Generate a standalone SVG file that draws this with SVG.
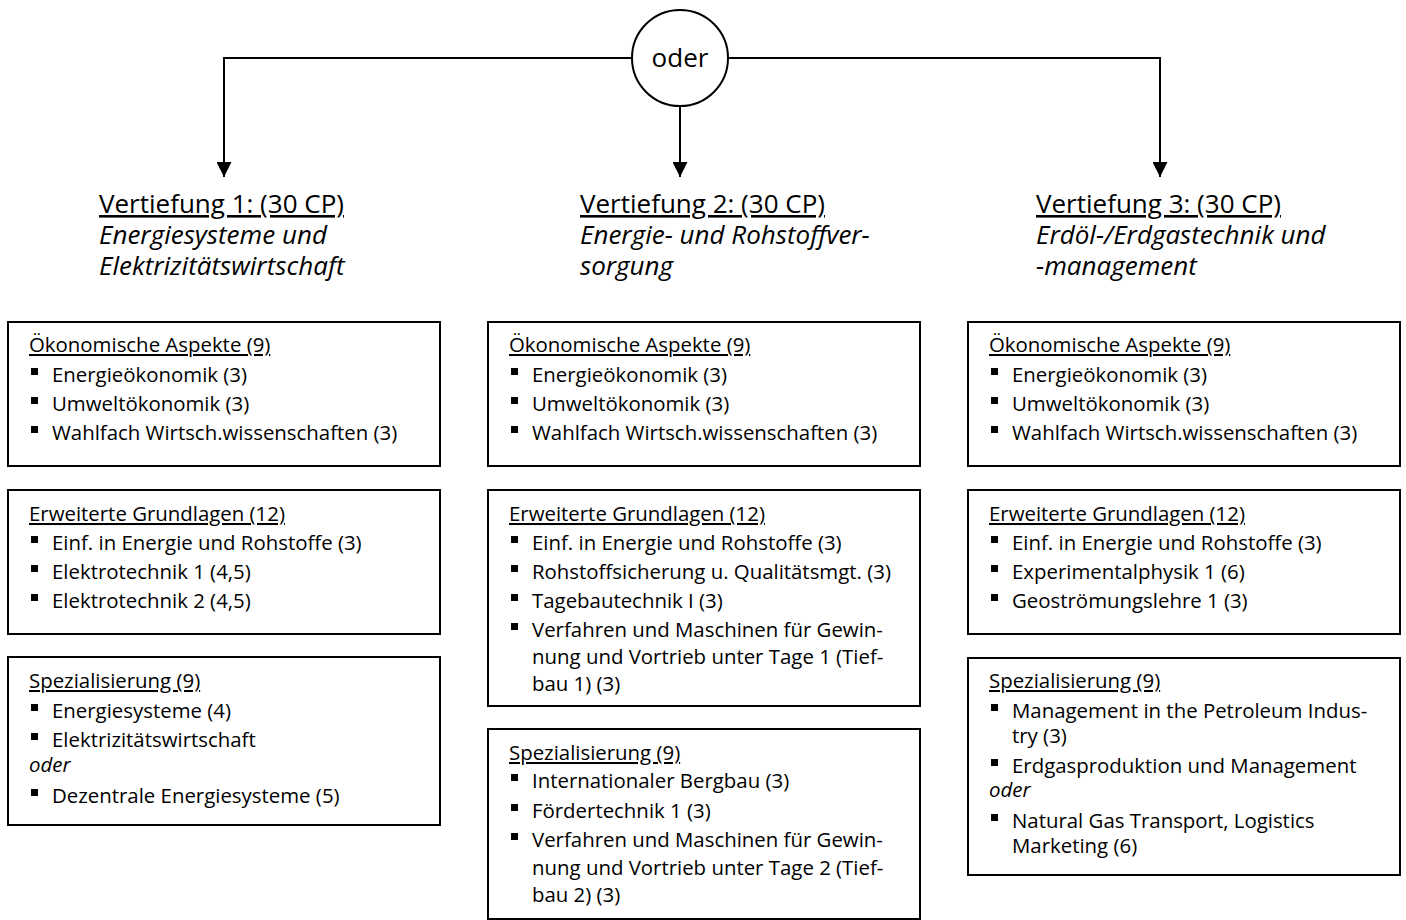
<svg xmlns="http://www.w3.org/2000/svg" width="1406" height="920" viewBox="0 0 1406 920">
<style>
text{font-family:"Open Sans","Liberation Sans",sans-serif;fill:#000}
.t{font-size:20.4px}
.h{font-size:26px}
.i{font-style:italic}
.u{text-decoration:underline;text-decoration-skip-ink:none}
.box{fill:#fff;stroke:#000;stroke-width:2}
.ln{fill:none;stroke:#000;stroke-width:2}
</style>
<defs>
<marker id="arr" viewBox="0 0 15 15" refX="15" refY="7.5" markerWidth="15" markerHeight="15" markerUnits="userSpaceOnUse" orient="auto">
<path d="M0,0 L15,7.5 L0,15 Z" fill="#000"/>
</marker>
<rect id="bul" width="7" height="7"/>
</defs>
<rect width="1406" height="920" fill="#fff"/>
<g id="connectors">
<path class="ln" d="M632,58 H224 V177" marker-end="url(#arr)"/>
<path class="ln" d="M680,107 V177" marker-end="url(#arr)"/>
<path class="ln" d="M728,58 H1160 V177" marker-end="url(#arr)"/>
</g>
<g id="oder">
<circle cx="680" cy="58" r="48" fill="#fff" stroke="#000" stroke-width="2"/>
<text class="h" x="680" y="67" text-anchor="middle">oder</text>
</g>
<g id="head1">
<text class="h u" x="99" y="213">Vertiefung 1: (30 CP)</text>
<text class="h i" x="99" y="244">Energiesysteme und</text>
<text class="h i" x="99" y="275">Elektrizitätswirtschaft</text>
</g>
<g id="head2">
<text class="h u" x="580" y="213">Vertiefung 2: (30 CP)</text>
<text class="h i" x="580" y="244">Energie- und Rohstoffver-</text>
<text class="h i" x="580" y="275">sorgung</text>
</g>
<g id="head3">
<text class="h u" x="1036" y="213">Vertiefung 3: (30 CP)</text>
<text class="h i" x="1036" y="244">Erdöl-/Erdgastechnik und</text>
<text class="h i" x="1036" y="275">-management</text>
</g>
<g id="c1oek">
<rect class="box" x="8" y="322" width="432" height="144"/>
<text class="t u" x="29" y="352">Ökonomische Aspekte (9)</text>
<use href="#bul" x="31" y="368"/><text class="t" x="52" y="382">Energieökonomik (3)</text>
<use href="#bul" x="31" y="397"/><text class="t" x="52" y="411">Umweltökonomik (3)</text>
<use href="#bul" x="31" y="426"/><text class="t" x="52" y="440">Wahlfach Wirtsch.wissenschaften (3)</text>
</g>
<g id="c2oek">
<rect class="box" x="488" y="322" width="432" height="144"/>
<text class="t u" x="509" y="352">Ökonomische Aspekte (9)</text>
<use href="#bul" x="511" y="368"/><text class="t" x="532" y="382">Energieökonomik (3)</text>
<use href="#bul" x="511" y="397"/><text class="t" x="532" y="411">Umweltökonomik (3)</text>
<use href="#bul" x="511" y="426"/><text class="t" x="532" y="440">Wahlfach Wirtsch.wissenschaften (3)</text>
</g>
<g id="c3oek">
<rect class="box" x="968" y="322" width="432" height="144"/>
<text class="t u" x="989" y="352">Ökonomische Aspekte (9)</text>
<use href="#bul" x="991" y="368"/><text class="t" x="1012" y="382">Energieökonomik (3)</text>
<use href="#bul" x="991" y="397"/><text class="t" x="1012" y="411">Umweltökonomik (3)</text>
<use href="#bul" x="991" y="426"/><text class="t" x="1012" y="440">Wahlfach Wirtsch.wissenschaften (3)</text>
</g>
<g id="c1erw">
<rect class="box" x="8" y="490" width="432" height="144"/>
<text class="t u" x="29" y="521">Erweiterte Grundlagen (12)</text>
<use href="#bul" x="31" y="536"/><text class="t" x="52" y="550">Einf. in Energie und Rohstoffe (3)</text>
<use href="#bul" x="31" y="565"/><text class="t" x="52" y="579">Elektrotechnik 1 (4,5)</text>
<use href="#bul" x="31" y="594"/><text class="t" x="52" y="608">Elektrotechnik 2 (4,5)</text>
</g>
<g id="c2erw">
<rect class="box" x="488" y="490" width="432" height="216"/>
<text class="t u" x="509" y="521">Erweiterte Grundlagen (12)</text>
<use href="#bul" x="511" y="536"/><text class="t" x="532" y="550">Einf. in Energie und Rohstoffe (3)</text>
<use href="#bul" x="511" y="565"/><text class="t" x="532" y="579">Rohstoffsicherung u. Qualitätsmgt. (3)</text>
<use href="#bul" x="511" y="594"/><text class="t" x="532" y="608">Tagebautechnik I (3)</text>
<use href="#bul" x="511" y="623"/><text class="t" x="532" y="637">Verfahren und Maschinen für Gewin-</text>
<text class="t" x="532" y="664">nung und Vortrieb unter Tage 1 (Tief-</text>
<text class="t" x="532" y="691">bau 1) (3)</text>
</g>
<g id="c3erw">
<rect class="box" x="968" y="490" width="432" height="144"/>
<text class="t u" x="989" y="521">Erweiterte Grundlagen (12)</text>
<use href="#bul" x="991" y="536"/><text class="t" x="1012" y="550">Einf. in Energie und Rohstoffe (3)</text>
<use href="#bul" x="991" y="565"/><text class="t" x="1012" y="579">Experimentalphysik 1 (6)</text>
<use href="#bul" x="991" y="594"/><text class="t" x="1012" y="608">Geoströmungslehre 1 (3)</text>
</g>
<g id="c1spez">
<rect class="box" x="8" y="657" width="432" height="168"/>
<text class="t u" x="29" y="688">Spezialisierung (9)</text>
<use href="#bul" x="31" y="704"/><text class="t" x="52" y="718">Energiesysteme (4)</text>
<use href="#bul" x="31" y="733"/><text class="t" x="52" y="747">Elektrizitätswirtschaft</text>
<text class="t i" x="29" y="772">oder</text>
<use href="#bul" x="31" y="789"/><text class="t" x="52" y="803">Dezentrale Energiesysteme (5)</text>
</g>
<g id="c2spez">
<rect class="box" x="488" y="729" width="432" height="190"/>
<text class="t u" x="509" y="760">Spezialisierung (9)</text>
<use href="#bul" x="511" y="774"/><text class="t" x="532" y="788">Internationaler Bergbau (3)</text>
<use href="#bul" x="511" y="804"/><text class="t" x="532" y="818">Fördertechnik 1 (3)</text>
<use href="#bul" x="511" y="833"/><text class="t" x="532" y="847">Verfahren und Maschinen für Gewin-</text>
<text class="t" x="532" y="875">nung und Vortrieb unter Tage 2 (Tief-</text>
<text class="t" x="532" y="902">bau 2) (3)</text>
</g>
<g id="c3spez">
<rect class="box" x="968" y="658" width="432" height="217"/>
<text class="t u" x="989" y="688">Spezialisierung (9)</text>
<use href="#bul" x="991" y="704"/><text class="t" x="1012" y="718">Management in the Petroleum Indus-</text>
<text class="t" x="1012" y="743">try (3)</text>
<use href="#bul" x="991" y="759"/><text class="t" x="1012" y="773">Erdgasproduktion und Management</text>
<text class="t i" x="989" y="797">oder</text>
<use href="#bul" x="991" y="814"/><text class="t" x="1012" y="828">Natural Gas Transport, Logistics</text>
<text class="t" x="1012" y="853">Marketing (6)</text>
</g>
</svg>
